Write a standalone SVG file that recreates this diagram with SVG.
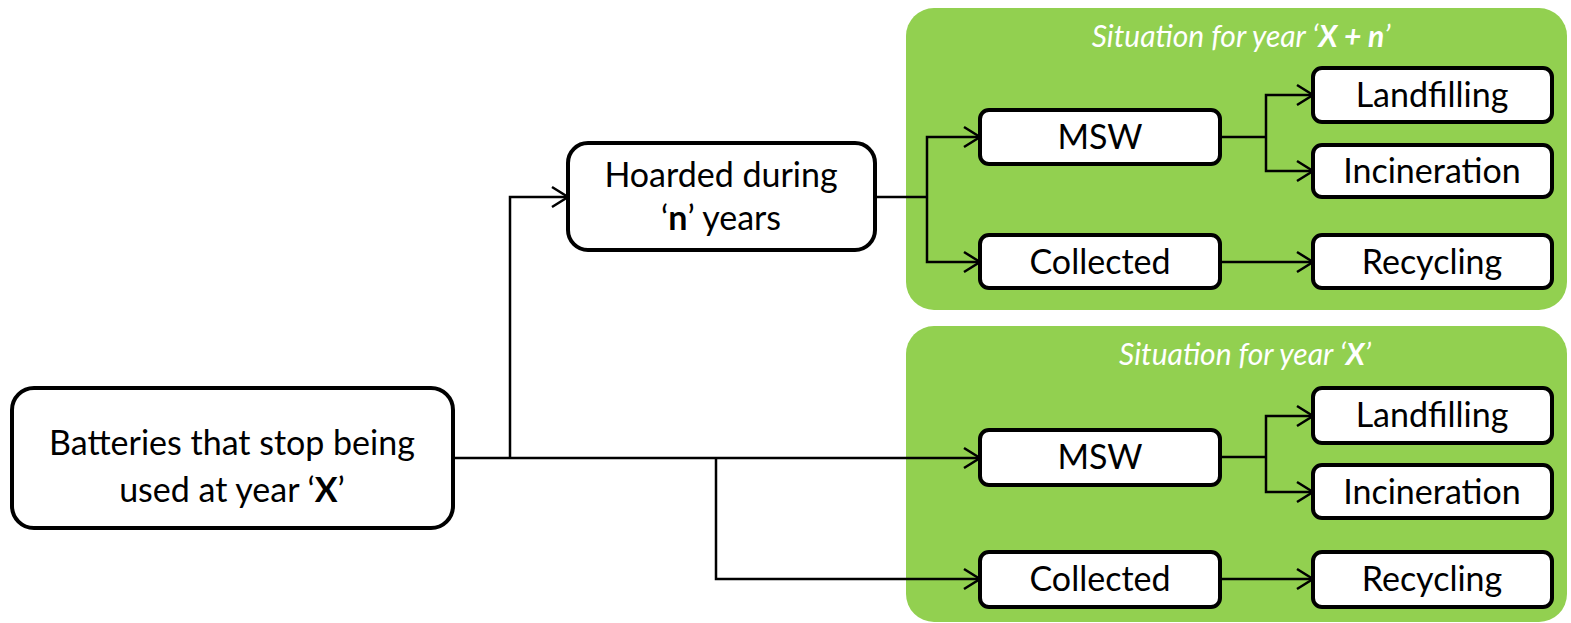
<svg xmlns="http://www.w3.org/2000/svg" width="1571" height="623" viewBox="0 0 1571 623">
<defs>
<style>
.panel{fill:#92D050;}
.box{fill:#fff;stroke:#000;stroke-width:4;}
.t{font-family:Lato,"Open Sans","Liberation Sans",sans-serif;font-size:34px;fill:#000;text-anchor:middle;}
.title{font-family:Lato,"Open Sans","Liberation Sans",sans-serif;font-size:30px;fill:#fff;font-style:italic;text-anchor:middle;}
.b{font-weight:bold;}
.c{fill:none;stroke:#000;stroke-width:2.5;}
</style>
<marker id="arr" viewBox="0 0 20 24" refX="18" refY="12" markerWidth="20" markerHeight="24" markerUnits="userSpaceOnUse" orient="auto">
<path d="M2,2 L18,12 L2,22" fill="none" stroke="#000" stroke-width="2.5"/>
</marker>
</defs>
<g id="panel-top">
<rect class="panel" x="906" y="8" width="661" height="302" rx="28"/>
<text class="title" x="1241" y="47">Situation for year ‘<tspan class="b">X + n</tspan>’</text>
</g>
<g id="panel-bottom">
<rect class="panel" x="906" y="326" width="661" height="296" rx="28"/>
<text class="title" x="1245" y="365">Situation for year ‘<tspan class="b">X</tspan>’</text>
</g>
<g id="connectors">
<path class="c" d="M453,458 H716"/>
<path class="c" d="M716,458 H980" marker-end="url(#arr)"/>
<path class="c" d="M510,458 V197 H568" marker-end="url(#arr)"/>
<path class="c" d="M716,458 V579 H980" marker-end="url(#arr)"/>
<path class="c" d="M875,197 H927"/>
<path class="c" d="M927,197 V137 H980" marker-end="url(#arr)"/>
<path class="c" d="M927,197 V262 H980" marker-end="url(#arr)"/>
<path class="c" d="M1220,137 H1266"/>
<path class="c" d="M1266,137 V95 H1313" marker-end="url(#arr)"/>
<path class="c" d="M1266,137 V171 H1313" marker-end="url(#arr)"/>
<path class="c" d="M1220,262 H1313" marker-end="url(#arr)"/>
<path class="c" d="M1220,457 H1266"/>
<path class="c" d="M1266,457 V416 H1313" marker-end="url(#arr)"/>
<path class="c" d="M1266,457 V492 H1313" marker-end="url(#arr)"/>
<path class="c" d="M1220,579 H1313" marker-end="url(#arr)"/>
</g>
<g id="batteries">
<rect class="box" x="12" y="388" width="441" height="140" rx="22"/>
<text class="t" x="232" y="455">Batteries that stop being</text>
<text class="t" x="232" y="502">used at year ‘<tspan class="b">X</tspan>’</text>
</g>
<g id="hoarded">
<rect class="box" x="568" y="143" width="307" height="107" rx="20"/>
<text class="t" x="721" y="187">Hoarded during</text>
<text class="t" x="721" y="230">‘<tspan class="b">n</tspan>’ years</text>
</g>
<g id="msw-top">
<rect class="box" x="980" y="110" width="240" height="54" rx="9"/>
<text class="t" x="1100" y="149">MSW</text>
</g>
<g id="collected-top">
<rect class="box" x="980" y="235" width="240" height="53" rx="9"/>
<text class="t" x="1100" y="274">Collected</text>
</g>
<g id="landfilling-top">
<rect class="box" x="1313" y="68" width="239" height="54" rx="9"/>
<text class="t" x="1432" y="107">Landfilling</text>
</g>
<g id="incineration-top">
<rect class="box" x="1313" y="145" width="239" height="52" rx="9"/>
<text class="t" x="1432" y="183">Incineration</text>
</g>
<g id="recycling-top">
<rect class="box" x="1313" y="235" width="239" height="53" rx="9"/>
<text class="t" x="1432" y="274">Recycling</text>
</g>
<g id="msw-bottom">
<rect class="box" x="980" y="430" width="240" height="55" rx="9"/>
<text class="t" x="1100" y="469">MSW</text>
</g>
<g id="collected-bottom">
<rect class="box" x="980" y="552" width="240" height="55" rx="9"/>
<text class="t" x="1100" y="591">Collected</text>
</g>
<g id="landfilling-bottom">
<rect class="box" x="1313" y="388" width="239" height="55" rx="9"/>
<text class="t" x="1432" y="427">Landfilling</text>
</g>
<g id="incineration-bottom">
<rect class="box" x="1313" y="465" width="239" height="53" rx="9"/>
<text class="t" x="1432" y="504">Incineration</text>
</g>
<g id="recycling-bottom">
<rect class="box" x="1313" y="552" width="239" height="55" rx="9"/>
<text class="t" x="1432" y="591">Recycling</text>
</g>
</svg>
